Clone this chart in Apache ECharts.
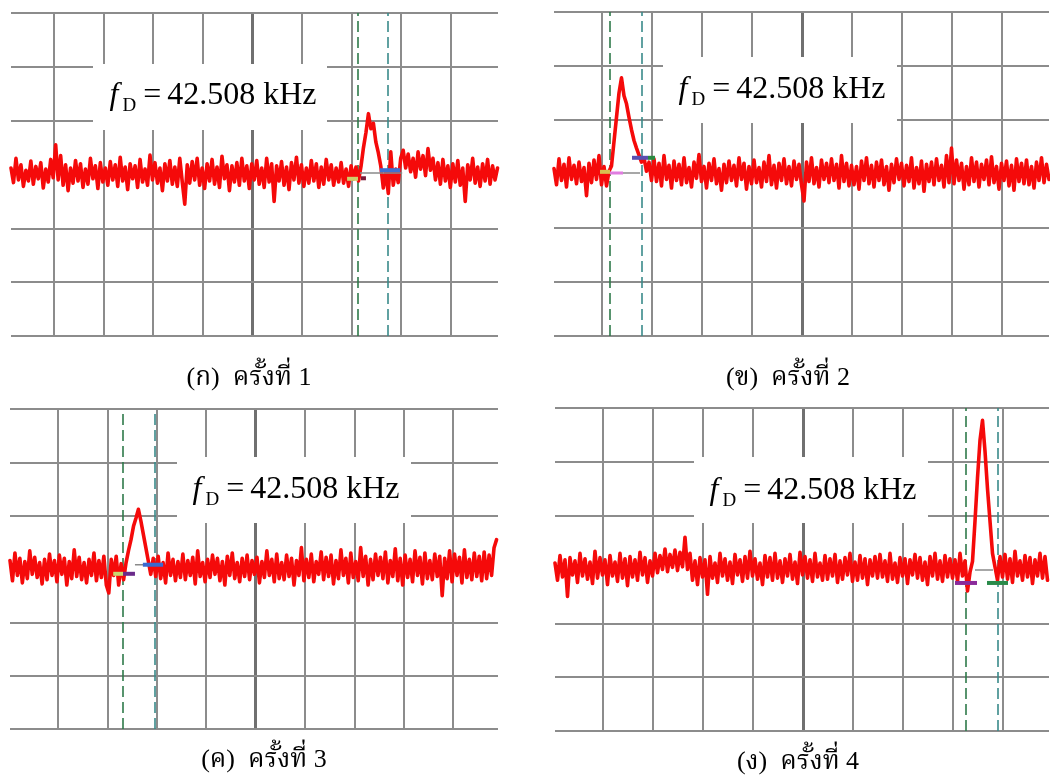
<!DOCTYPE html>
<html>
<head>
<meta charset="utf-8">
<script src="https://cdn.jsdelivr.net/npm/echarts@6/dist/echarts.min.js"></script>
<style>
  html, body { margin: 0; padding: 0; background: #ffffff; }
  #chart { width: 1050px; height: 778px; }
</style>
</head>
<body>
<div id="chart"></div>
<script>
// Scope screen in divisions: x runs 0..10 (centre line at 5), y runs -3..3.
const xGridTicks = [1, 2, 3, 4, 5, 6, 7, 8, 9];
const yGridTicks = [-3, -2, -1, 1, 2, 3];
const captions = ['(ก)  ครั้งที่ 1', '(ข)  ครั้งที่ 2', '(ค)  ครั้งที่ 3', '(ง)  ครั้งที่ 4'];
const freqText = '42.508 kHz';

// Visible x window of each capture and sampling of its trace
const xWindow = [[0.14, 9.95], [0.04, 9.94], [0.03, 9.91], [0.04, 9.92]];
const sampleStart = [0.14, 0.04, 0.03, 0.04];
const sampleStep = 0.05;

// Capture 1 trace (divisions)
const trace1 = [
  0.12,-0.15,0.30,-0.10,0.18,-0.22,0.08,-0.12,0.25,-0.18,
  0.15,-0.08,0.22,-0.25,0.10,-0.14,0.28,-0.06,0.55,-0.10,
  0.35,-0.20,0.18,-0.30,0.12,-0.16,0.26,-0.12,0.20,-0.24,
  0.10,-0.18,0.30,-0.08,0.16,-0.26,0.22,-0.14,0.12,-0.20,
  0.24,-0.10,0.18,-0.22,0.32,-0.12,0.14,-0.28,0.20,-0.08,
  0.16,-0.24,0.28,-0.14,0.10,-0.20,0.36,-0.10,0.22,-0.16,
  0.12,-0.30,0.20,-0.12,0.26,-0.18,0.14,-0.22,0.30,-0.14,
  -0.55,0.18,-0.16,0.24,-0.10,0.30,-0.20,0.12,-0.26,0.20,
  -0.12,0.28,-0.18,0.14,-0.24,0.34,-0.08,0.18,-0.30,0.16,
  -0.14,0.22,-0.20,0.30,-0.12,0.16,-0.26,0.20,-0.10,0.26,
  -0.18,0.12,-0.24,0.30,-0.14,0.20,-0.50,0.16,-0.12,0.24,
  -0.20,0.14,-0.28,0.22,-0.10,0.32,-0.16,0.18,-0.22,0.12,
  -0.16,0.26,-0.12,0.20,-0.24,0.14,-0.18,0.28,-0.10,0.18,
  -0.20,0.12,-0.14,0.22,-0.16,0.10,-0.22,0.16,-0.08,0.14,
  -0.12,0.15,0.50,0.78,1.13,0.85,0.95,0.60,0.40,0.15,
  -0.25,0.05,-0.35,0.42,-0.20,0.10,-0.15,0.30,0.45,0.12,
  0.38,0.05,0.30,-0.05,0.42,0.10,0.35,-0.02,0.48,0.08,
  0.30,-0.10,0.22,-0.18,0.28,-0.12,0.16,-0.24,0.20,-0.14,
  0.26,-0.20,0.12,-0.50,0.18,-0.10,0.30,-0.16,0.14,-0.22,
  0.20,-0.12,0.28,-0.18,0.16,-0.10,0.12
];

// Capture 2 trace
const trace2 = [
  0.10,-0.20,0.28,-0.12,0.18,-0.24,0.30,-0.10,0.16,-0.18,
  0.22,-0.14,0.12,-0.40,0.20,-0.16,0.26,-0.10,0.34,-0.20,
  0.14,-0.22,0.05,0.15,0.60,1.05,1.50,1.78,1.45,1.30,
  1.05,0.82,0.62,0.48,0.35,0.22,0.30,0.05,0.22,-0.12,
  0.28,-0.14,0.20,-0.22,0.34,-0.10,0.16,-0.26,0.24,-0.12,
  0.18,-0.20,0.30,-0.16,0.12,-0.24,0.22,-0.08,0.36,-0.14,
  0.14,-0.26,0.20,-0.12,0.28,-0.18,0.10,-0.30,0.18,-0.16,
  0.24,-0.12,0.16,-0.22,0.30,-0.10,0.20,-0.28,0.14,-0.18,
  0.26,-0.16,0.12,-0.24,0.22,-0.14,0.34,-0.20,0.16,-0.26,
  0.20,-0.12,0.28,-0.18,0.14,-0.22,0.24,-0.10,0.18,-0.20,
  -0.50,0.22,-0.14,0.30,-0.18,0.12,-0.24,0.26,-0.10,0.20,
  -0.16,0.28,-0.12,0.18,-0.26,0.34,-0.14,0.20,-0.22,0.16,
  -0.20,0.14,-0.28,0.24,-0.12,0.30,-0.18,0.16,-0.24,0.22,
  -0.12,0.26,-0.20,0.14,-0.30,0.18,-0.16,0.28,-0.10,0.20,
  -0.22,0.16,-0.14,0.30,-0.26,0.12,-0.18,0.24,-0.32,0.18,
  -0.14,0.22,-0.20,0.28,-0.12,0.16,-0.24,0.34,-0.16,0.48,
  -0.18,0.26,-0.12,0.20,-0.28,0.14,-0.20,0.30,-0.14,0.22,
  -0.24,0.18,-0.10,0.26,-0.20,0.32,-0.16,0.14,-0.28,0.20,
  -0.12,0.24,-0.22,0.16,-0.30,0.28,-0.14,0.20,-0.18,0.26,
  -0.20,0.14,-0.26,0.22,-0.12,0.30,-0.16,0.18,-0.10
];

// Capture 3 trace
const trace3 = [
  0.16,-0.22,0.30,-0.12,0.20,-0.26,0.14,-0.18,0.34,-0.10,
  0.22,-0.16,0.12,-0.28,0.18,-0.20,0.28,-0.12,0.16,-0.24,
  0.26,-0.10,0.20,-0.30,0.14,-0.18,0.36,-0.14,0.22,-0.20,
  0.12,-0.26,0.18,-0.12,0.30,-0.22,0.16,-0.16,0.24,-0.30,
  -0.45,0.18,-0.12,0.24,-0.30,0.10,-0.20,0.12,0.35,0.55,
  0.80,0.95,1.12,0.90,0.65,0.40,0.15,-0.10,0.20,-0.14,
  0.24,-0.18,0.12,-0.26,0.30,-0.12,0.18,-0.22,0.14,-0.16,
  0.28,-0.20,0.16,-0.12,0.22,-0.28,0.34,-0.14,0.12,-0.24,
  0.18,-0.16,0.26,-0.10,0.20,-0.22,0.14,-0.30,0.24,-0.12,
  0.30,-0.18,0.12,-0.24,0.20,-0.14,0.26,-0.20,0.16,-0.10,
  0.22,-0.26,0.14,-0.16,0.34,-0.12,0.18,-0.24,0.28,-0.18,
  0.12,-0.20,0.26,-0.14,0.20,-0.30,0.16,-0.12,0.40,-0.22,
  0.18,-0.16,0.28,-0.24,0.14,-0.10,0.32,-0.20,0.22,-0.14,
  0.26,-0.28,0.16,-0.18,0.36,-0.12,0.20,-0.26,0.30,-0.16,
  0.14,-0.22,0.40,-0.14,0.24,-0.30,0.18,-0.20,0.28,-0.12,
  0.22,-0.18,0.32,-0.26,0.16,-0.14,0.38,-0.22,0.20,-0.30,
  0.26,-0.16,0.18,-0.24,0.34,-0.12,0.22,-0.28,0.30,-0.18,
  0.16,-0.20,0.28,-0.14,0.24,-0.50,0.20,-0.18,0.34,-0.24,
  0.28,-0.12,0.22,-0.26,0.36,-0.16,0.18,-0.20,0.30,-0.14,
  0.24,-0.22,0.32,-0.18,0.26,-0.12,0.40,0.55
];

// Capture 4 trace
const trace4 = [
  0.12,-0.20,0.26,-0.14,0.18,-0.50,0.22,-0.10,0.16,-0.24,
  0.30,-0.12,0.20,-0.18,0.14,-0.26,0.34,-0.16,0.22,-0.10,
  0.18,-0.28,0.26,-0.12,0.14,-0.22,0.30,-0.16,0.20,-0.30,
  0.24,-0.14,0.18,-0.20,0.32,-0.10,0.22,-0.24,0.16,-0.12,
  0.30,-0.06,0.26,0.00,0.38,-0.04,0.28,0.04,0.36,-0.02,
  0.32,0.05,0.60,0.00,0.30,-0.20,0.16,-0.28,0.22,-0.14,
  0.18,-0.46,0.24,-0.16,0.12,-0.24,0.30,-0.12,0.20,-0.20,
  0.14,-0.26,0.28,-0.10,0.18,-0.22,0.24,-0.16,0.34,-0.12,
  0.20,-0.18,0.12,-0.28,0.26,-0.14,0.22,-0.20,0.30,-0.16,
  0.16,-0.24,0.20,-0.12,0.28,-0.18,0.14,-0.26,0.32,-0.10,
  0.24,-0.16,0.18,-0.22,0.30,-0.14,0.12,-0.20,0.26,-0.18,
  0.20,-0.12,0.28,-0.24,0.16,-0.18,0.22,-0.10,0.30,-0.22,
  0.14,-0.20,0.26,-0.16,0.20,-0.28,0.18,-0.12,0.24,-0.16,
  0.28,-0.14,0.16,-0.22,0.30,-0.18,0.12,-0.24,0.22,-0.12,
  0.20,-0.26,0.18,-0.10,0.28,-0.16,0.22,-0.20,0.14,-0.28,
  0.24,-0.12,0.30,-0.18,0.16,-0.22,0.26,-0.14,0.20,-0.16,
  0.18,-0.22,0.30,-0.12,0.16,-0.40,-0.05,0.15,0.90,1.70,
  2.40,2.77,2.20,1.50,0.90,0.30,0.05,-0.20,0.24,-0.14,
  0.28,-0.18,0.20,-0.24,0.34,-0.12,0.16,-0.20,0.26,-0.14,
  0.22,-0.26,0.18,-0.12,0.30,-0.16,0.24,-0.20
];
const traces = [trace1, trace2, trace3, trace4];

// Measurement cursors (x positions, divisions)
const cursors = [[7.13, 7.73], [1.16, 1.80], [2.32, 2.97], [8.26, 8.90]];

// Cursor read-out markers near the baseline: [x from, x to, y]
const markers1 = [[6.91, 7.13, -0.08], [7.19, 7.29, -0.07], [7.17, 8.02, 0.03], [7.57, 7.98, 0.08]];
const markers2 = [[0.96, 1.16, 0.04], [1.16, 1.42, 0.02], [1.42, 1.76, 0.02], [1.60, 1.92, 0.30], [1.92, 2.06, 0.30]];
const markers3 = [[2.12, 2.32, -0.09], [2.32, 2.56, -0.09], [2.56, 2.97, 0.08], [2.72, 3.13, 0.08]];
const markers4 = [[8.04, 8.48, -0.25], [8.44, 8.80, -0.01], [8.68, 9.10, -0.25]];
const markers = [markers1, markers2, markers3, markers4];

// ---- styling / layout ----
const markerStyles = [
  [{c: '#cfcf6a', w: 4}, {c: '#7a1a3a', w: 4}, {c: '#8a8a8a', w: 1.5}, {c: '#3f6fd0', w: 4}],
  [{c: '#d8c050', w: 4}, {c: '#e07ce0', w: 3}, {c: '#8a8a8a', w: 1.5}, {c: '#5a4fb0', w: 4}, {c: '#2a8a40', w: 4}],
  [{c: '#c8d870', w: 4}, {c: '#6a2a8a', w: 4}, {c: '#8a8a8a', w: 1.5}, {c: '#3a6ad0', w: 4}],
  [{c: '#8a2a9a', w: 4}, {c: '#8a8a8a', w: 1.5}, {c: '#2a8a4a', w: 4}]
];

const panels = [
  {grid: {left: 11, top: 13, width: 487, height: 323}, box: [93, 64, 234, 66], label: [213, 96], cap: [249, 378]},
  {grid: {left: 554, top: 12, width: 495, height: 324}, box: [663, 57, 234, 66], label: [782, 90], cap: [788, 378]},
  {grid: {left: 10, top: 409, width: 488, height: 320}, box: [177, 457, 234, 66], label: [296, 490], cap: [264, 760]},
  {grid: {left: 555, top: 408, width: 494, height: 323}, box: [694, 457, 234, 66], label: [813, 491], cap: [798, 762]}
];

const gridColor = '#8c8c8c';
const serif = '"Liberation Serif", "Times New Roman", "DejaVu Serif", serif';
const captionFont = '"Liberation Serif", Norasi, "Noto Serif Thai", "TH Sarabun New", serif';

const grids = [], xAxes = [], yAxes = [], series = [], graphics = [];

panels.forEach((p, i) => {
  grids.push(Object.assign({containLabel: false}, p.grid));
  xAxes.push({type: 'value', gridIndex: i, min: xWindow[i][0], max: xWindow[i][1], show: false});
  yAxes.push({type: 'value', gridIndex: i, min: -3, max: 3, show: false});

  const lines = [];
  xGridTicks.forEach(v => lines.push({
    xAxis: v,
    lineStyle: v === 5 ? {color: '#707070', width: 3, type: 'solid'} : {color: gridColor, width: 2, type: 'solid'}
  }));
  yGridTicks.forEach(v => lines.push({yAxis: v, lineStyle: {color: gridColor, width: 2, type: 'solid'}}));
  lines.push({xAxis: cursors[i][0], lineStyle: {color: '#2f7a4a', width: 1.6, type: [11, 5]}});
  lines.push({xAxis: cursors[i][1], lineStyle: {color: '#3a8a8a', width: 1.6, type: [11, 5]}});

  const pts = traces[i].map((y, k) => [+(sampleStart[i] + k * sampleStep).toFixed(3), y]);
  series.push({
    type: 'line',
    xAxisIndex: i, yAxisIndex: i,
    data: pts,
    showSymbol: false,
    symbol: 'none',
    z: 3,
    lineStyle: {color: '#f50a0a', width: 3.6, join: 'round', cap: 'round'},
    markLine: {
      z: 1,
      silent: true,
      symbol: ['none', 'none'],
      label: {show: false},
      animation: false,
      data: lines
    }
  });

  markers[i].forEach((m, k) => {
    const st = markerStyles[i][k];
    series.push({
      type: 'line',
      xAxisIndex: i, yAxisIndex: i,
      data: [[m[0], m[2]], [m[1], m[2]]],
      showSymbol: false,
      symbol: 'none',
      z: 5,
      silent: true,
      lineStyle: {color: st.c, width: st.w}
    });
  });

  graphics.push({
    type: 'rect', z: 20, silent: true,
    shape: {x: p.box[0], y: p.box[1], width: p.box[2], height: p.box[3]},
    style: {fill: '#ffffff'}
  });
  graphics.push({
    type: 'text', z: 21, silent: true,
    x: p.label[0], y: p.label[1],
    style: {
      text: '{f|f}{d|D}{e|=}{n|' + freqText + '}',
      align: 'center', verticalAlign: 'middle',
      textAlign: 'center', textVerticalAlign: 'middle',
      fill: '#000',
      rich: {
        f: {fontFamily: serif, fontStyle: 'italic', fontSize: 32, lineHeight: 40, fill: '#000', padding: [0, 4, 0, 0]},
        d: {fontFamily: serif, fontSize: 19, lineHeight: 16, verticalAlign: 'bottom', fill: '#000'},
        e: {fontFamily: serif, fontSize: 32, lineHeight: 40, fill: '#000', padding: [0, 6, 0, 7]},
        n: {fontFamily: serif, fontSize: 32, lineHeight: 40, fill: '#000'}
      }
    }
  });
  graphics.push({
    type: 'text', z: 21, silent: true,
    x: p.cap[0], y: p.cap[1],
    style: {
      text: captions[i],
      align: 'center', verticalAlign: 'middle',
      textAlign: 'center', textVerticalAlign: 'middle',
      font: '26px ' + captionFont,
      fill: '#000'
    }
  });
});

const chart = echarts.init(document.getElementById('chart'), null, {renderer: 'canvas'});
chart.setOption({
  backgroundColor: '#ffffff',
  animation: false,
  grid: grids,
  xAxis: xAxes,
  yAxis: yAxes,
  series: series,
  graphic: {elements: graphics}
});
</script>
</body>
</html>
